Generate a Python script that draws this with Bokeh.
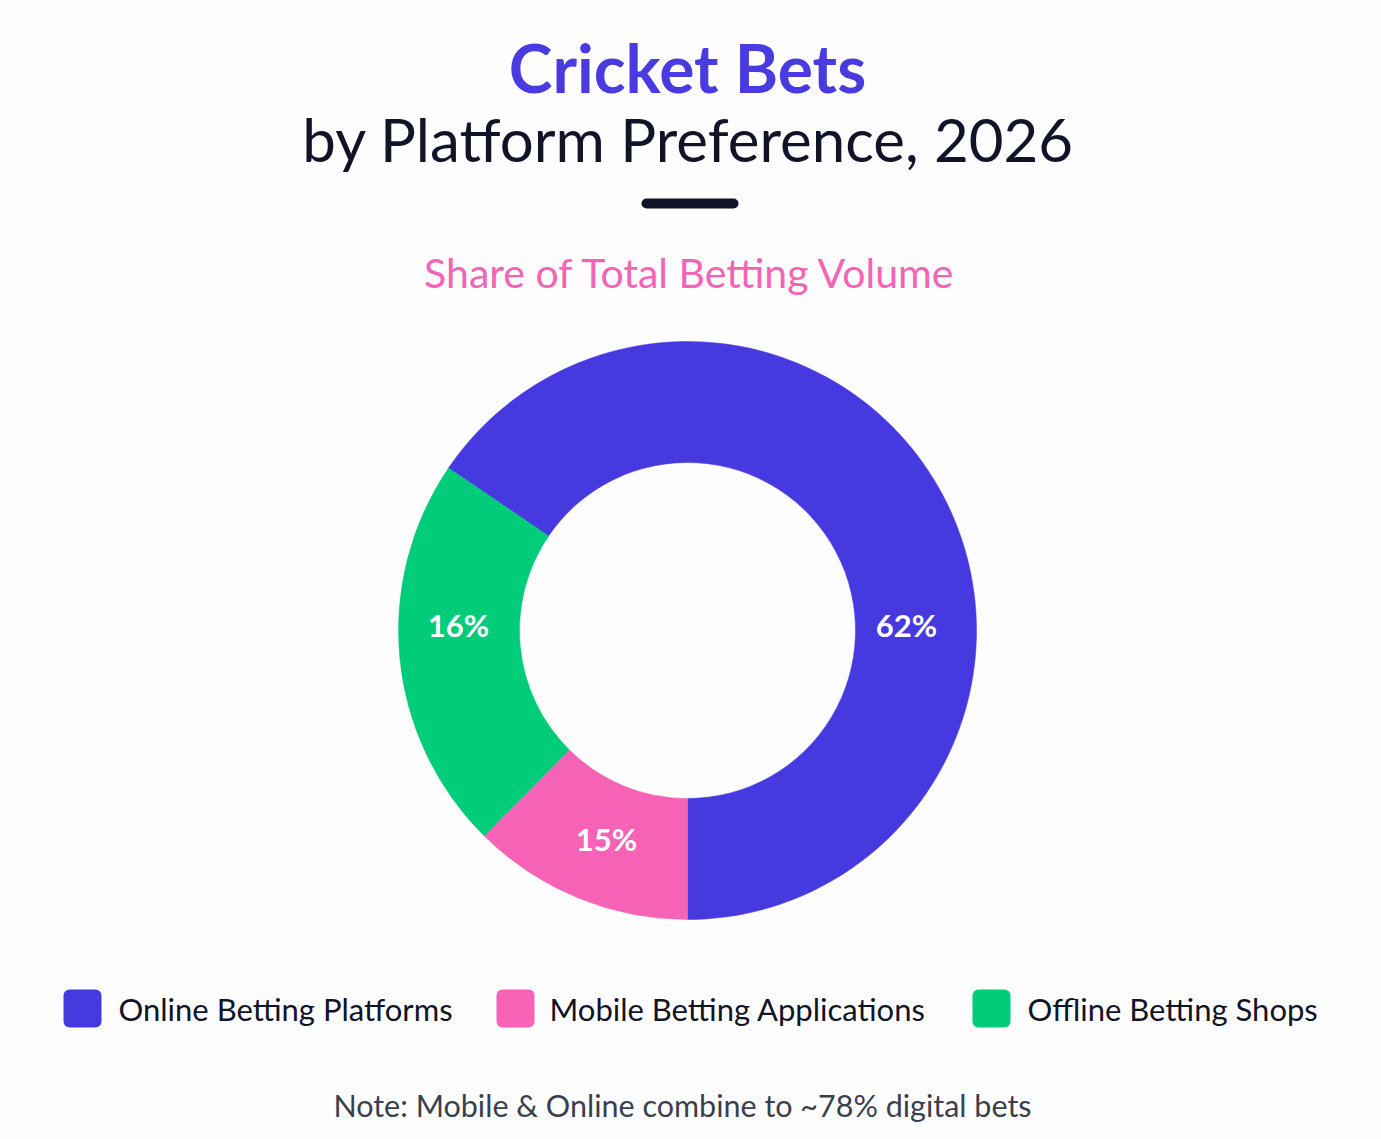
import math
from bokeh.plotting import figure
from bokeh.models import Range1d
from bokeh.core.properties import value
from bokeh.embed import file_html
from bokeh.resources import INLINE

# ---------------- data ----------------
categories = ["Online Betting Platforms", "Mobile Betting Applications", "Offline Betting Shops"]
label_values = [62, 15, 16]              # printed percentages
slice_extent = [65.5, 12.4, 22.1]        # arc share as drawn in the reference (%)
colors = ["#4639DF", "#F562B6", "#00CC7A"]
draw_order = [0, 2, 1]                   # anticlockwise from 6 o'clock: online, offline, mobile
label_angle_deg = [1, 249, 179]          # hand-placed label directions
label_radius = [219, 226, 229]

title_1 = "Cricket Bets"
title_2 = "by Platform Preference, 2026"
subtitle = "Share of Total Betting Volume"
note = "Note: Mobile & Online combine to ~78% digital bets"

FONT = "Lato"
W, H = 1381, 1139

def Y(v):  # page-pixel y to data y
    return H - v

p = figure(width=W, height=H, output_backend="svg", toolbar_location=None,
           x_range=Range1d(0, W), y_range=Range1d(0, H),
           min_border=0, background_fill_color="#FDFDFE", border_fill_color="#FDFDFE")
p.axis.visible = False
p.grid.visible = False
p.outline_line_color = None

# ---------------- donut ----------------
cx, cy = 687, Y(630)
r_in, r_out = 168, 289
start = -math.pi / 2
total = sum(slice_extent)
starts, ends, cols = [], [], []
for i in draw_order:
    span = slice_extent[i] / total * 2 * math.pi
    starts.append(start)
    ends.append(start + span)
    cols.append(colors[i])
    start += span
p.annular_wedge(x=cx, y=cy, inner_radius=r_in, outer_radius=r_out,
                start_angle=starts, end_angle=ends, fill_color=cols,
                line_color=cols, line_width=0.5, direction="anticlock")

lx = [cx + r * math.cos(math.radians(a)) for a, r in zip(label_angle_deg, label_radius)]
ly = [cy + r * math.sin(math.radians(a)) + 2 for a, r in zip(label_angle_deg, label_radius)]
p.text(x=lx, y=ly, text=[f"{v}%" for v in label_values], text_color="white",
       text_font=value(FONT), text_font_style="bold", text_font_size="31px",
       text_align="center", text_baseline="middle")

# ---------------- titles ----------------
p.text(x=[687], y=[Y(67)], text=[title_1], text_color="#4A3BE0", text_font=value(FONT),
       text_font_style="bold", text_font_size="66px", text_align="center",
       text_baseline="middle")
p.text(x=[688], y=[Y(138)], text=[title_2], text_color="#101426", text_font=value(FONT),
       text_font_size="60px", text_align="center", text_baseline="middle")
p.line(x=[646, 733], y=[Y(203), Y(203)], line_width=10, line_color="#101426",
       line_cap="round")
p.text(x=[690], y=[Y(272)], text=[subtitle], text_color="#F464B5", text_font=value(FONT),
       text_font_size="41px", text_align="center", text_baseline="middle")

# ---------------- legend ----------------
sq_left = [63, 496, 972]
txt_left = [118, 549, 1027]
sq = 38
for i in range(3):
    kw = dict(left=sq_left[i], right=sq_left[i] + sq, bottom=Y(1027), top=Y(989),
              fill_color=colors[i], line_color=None)
    try:
        p.quad(border_radius=6, **kw)
    except Exception:
        p.quad(**kw)
p.text(x=txt_left, y=[Y(1008)] * 3, text=categories, text_color="#101426",
       text_font=value(FONT), text_font_size="31px", text_align="left",
       text_baseline="middle")

# ---------------- note ----------------
p.text(x=[682], y=[Y(1104)], text=[note], text_color="#3A3F4E", text_font=value(FONT),
       text_font_size="30.5px", text_align="center", text_baseline="middle")

open("out.html", "w").write(file_html(p, INLINE))
